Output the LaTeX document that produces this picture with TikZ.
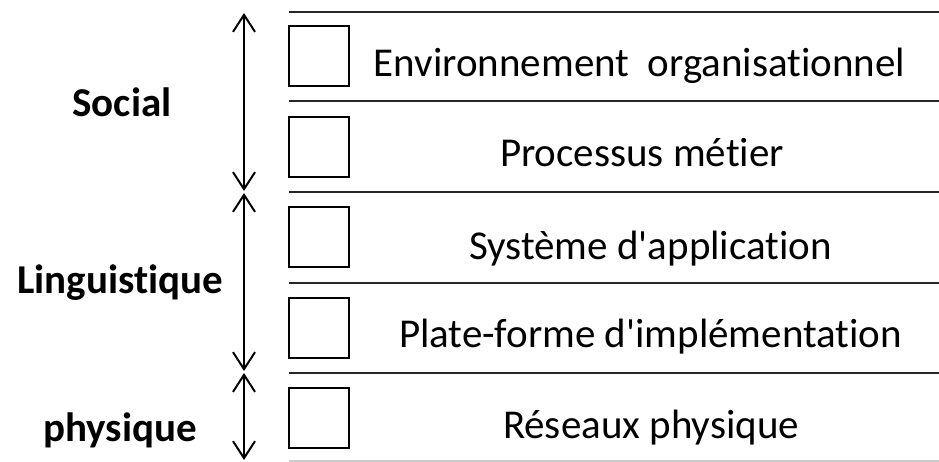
\documentclass[tikz,border=0pt]{standalone}
\usepackage{fontspec}
\setmainfont{Carlito}[Ligatures={NoCommon,TeXOff}]
\usetikzlibrary{arrows.meta}
\begin{document}
\begin{tikzpicture}[x=1pt,y=-1pt,
  rule/.style={line width=2pt, black!85},
  cell/.style={draw, line width=2pt, minimum width=60pt, minimum height=60pt, inner sep=0pt},
  layer/.style={anchor=base, font=\fontsize{41}{48}\selectfont, inner sep=0pt},
  group/.style={anchor=base, font=\fontsize{41}{48}\selectfont\bfseries, inner sep=0pt},
  span/.style={line width=2pt, {Straight Barb[length=17pt,width=22pt]}-{Straight Barb[length=17pt,width=22pt]}}
]
\useasboundingbox (0,0) rectangle (939,462);

% layer separators
\foreach \y/\n in {12/0,101/1,192/2,283/3,373/4}{
  \coordinate (l\n) at (289,\y);
  \coordinate (r\n) at (939,\y);
  \draw[rule] (l\n) -- (r\n);
}
\coordinate (l5) at (289,461);
\coordinate (r5) at (939,461);
\draw[line width=2pt, black!20] (l5) -- (r5);

% check boxes
\node[cell] (c1) at (319,56.5) {};
\node[cell] (c2) at (319,147.5) {};
\node[cell] (c3) at (319,237.5) {};
\node[cell] (c4) at (319,327.5) {};
\node[cell] (c5) at (319,418) {};

% layer names
\node[layer] (t1) at (639.5,76.7) {Environnement\ \ organisationnel};
\node[layer] (t2) at (642,166.7) {Processus métier};
\node[layer] (t3) at (650.5,260) {Système d'application};
\node[layer] (t4) at (650.5,347) {Plate-forme d'implémentation};
\node[layer] (t5) at (651,438) {Réseaux physique};

% groups
\node[group] (g1) at (122,117) {Social};
\node[group] (g2) at (120,293) {Linguistique};
\node[group] (g3) at (120,441) {physique};

% group spans
\coordinate (a1) at (244,13);
\coordinate (a2) at (244,191);
\coordinate (b1) at (244,193);
\coordinate (b2) at (244,371);
\coordinate (p1) at (244,373);
\coordinate (p2) at (244,460);
\draw[span] (a1) -- (a2);
\draw[span] (b1) -- (b2);
\draw[span] (p1) -- (p2);
\end{tikzpicture}
\end{document}
